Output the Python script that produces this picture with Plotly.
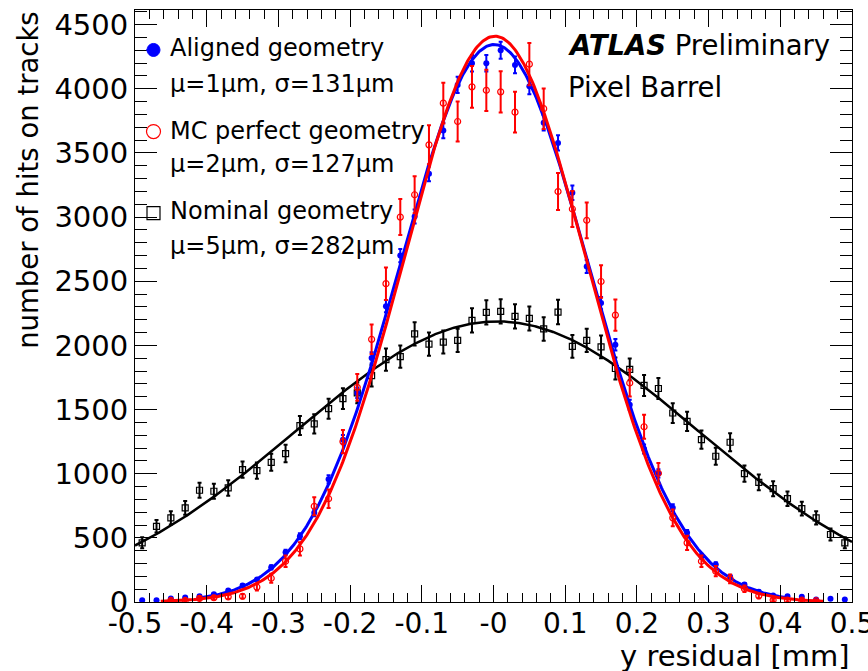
import numpy as np
import plotly.graph_objects as go

# ---------------- data ----------------
bin_centers = [-0.49, -0.47, -0.45, -0.43, -0.41, -0.39, -0.37, -0.35, -0.33, -0.31,
               -0.29, -0.27, -0.25, -0.23, -0.21, -0.19, -0.17, -0.15, -0.13, -0.11,
               -0.09, -0.07, -0.05, -0.03, -0.01, 0.01, 0.03, 0.05, 0.07, 0.09,
               0.11, 0.13, 0.15, 0.17, 0.19, 0.21, 0.23, 0.25, 0.27, 0.29,
               0.31, 0.33, 0.35, 0.37, 0.39, 0.41, 0.43, 0.45, 0.47, 0.49]

aligned_counts = [14, 14, 27, 35, 45, 60, 90, 128, 175, 270,
                  388, 513, 695, 957, 1265, 1629, 1902, 2306, 2700, 3005,
                  3337, 3675, 4030, 4199, 4199, 4300, 4186, 4020, 3735, 3578,
                  3190, 2615, 2330, 2005, 1538, 1193, 1003, 734, 539, 357,
                  292, 196, 136, 80, 50, 45, 40, 19, 25, 19]
aligned_err = [4, 4, 5, 6, 7, 8, 9, 11, 13, 16,
               20, 23, 26, 31, 36, 40, 44, 48, 52, 55,
               58, 61, 63, 65, 65, 66, 65, 63, 61, 60,
               56, 51, 48, 45, 39, 35, 32, 27, 23, 19,
               17, 14, 12, 9, 7, 7, 6, 4, 5, 4]

mc_counts = [None, None, 12, 12, 28, 33, 40, 45, 116, 185,
             318, 414, 746, 805, 1250, 1673, 2047, 2481, 3000, 3174,
             3563, 3888, 3745, 4015, 3988, 3976, 3818, 4192, 3845, 3199,
             3063, 2975, 2498, 2236, 1707, 1366, 1003, 656, 461, 318,
             240, 181, 103, 48, 16, 14, 14, 10, None, None]
mc_err = [None, None, 9, 9, 13, 15, 16, 17, 27, 35,
          45, 52, 70, 72, 90, 104, 115, 127, 140, 144,
          152, 159, 156, 162, 161, 161, 158, 165, 158, 144,
          141, 139, 127, 121, 105, 94, 81, 65, 55, 45,
          40, 34, 26, 18, 10, 10, 10, 8, None, None]

nominal_counts = [461, 590, 656, 734, 871, 863, 889, 1032, 1024, 1089,
                  1157, 1375, 1388, 1507, 1585, 1630, 1764, 1889, 1912, 2090,
                  2010, 2026, 2039, 2195, 2257, 2265, 2226, 2210, 2128, 2260,
                  1992, 2039, 1988, 1820, 1813, 1688, 1664, 1473, 1408, 1266,
                  1136, 1245, 1000, 932, 883, 805, 728, 656, 526, 461]
nominal_err = [43, 49, 51, 54, 59, 59, 60, 64, 64, 66,
               68, 74, 75, 78, 80, 81, 84, 87, 87, 91,
               90, 90, 90, 94, 95, 95, 94, 94, 92, 95,
               89, 90, 89, 85, 85, 82, 82, 77, 75, 71,
               67, 71, 63, 61, 59, 57, 54, 51, 46, 43]

# Gaussian fit parameters (amplitude, mean [mm], sigma [mm], fit range [mm])
fit_names = ["aligned", "mc", "nominal"]
fit_amp = [4345, 4410, 2187]
fit_mu = [0.001, 0.002, 0.005]
fit_sigma = [0.131, 0.127, 0.282]
fit_lo = [-0.41, -0.464, -0.5]
fit_hi = [0.41, 0.46, 0.5]

x_tickvals = [-0.5, -0.4, -0.3, -0.2, -0.1, 0.0, 0.1, 0.2, 0.3, 0.4, 0.5]
x_ticktext = ["-0.5", "-0.4", "-0.3", "-0.2", "-0.1", "-0", "0.1", "0.2", "0.3", "0.4", "0.5"]
y_tickvals = [0, 500, 1000, 1500, 2000, 2500, 3000, 3500, 4000, 4500]

BLUE = "#0000ff"
RED = "#ff0000"
BLACK = "#000000"
FONT = "DejaVu Sans"
TICKFONT = "DejaVu Sans"

fig = go.Figure()


def fit_curve(i):
    xs = np.linspace(fit_lo[i], fit_hi[i], 500)
    ys = fit_amp[i] * np.exp(-0.5 * ((xs - fit_mu[i]) / fit_sigma[i]) ** 2)
    return xs, ys


# Nominal geometry (black)
fig.add_trace(go.Scatter(
    x=bin_centers, y=nominal_counts, mode="markers",
    marker=dict(symbol="square-open", size=6, color=BLACK, line=dict(width=1.2, color=BLACK)),
    error_y=dict(type="data", array=nominal_err, color=BLACK, thickness=2, width=2),
    showlegend=False))
xs, ys = fit_curve(2)
fig.add_trace(go.Scatter(x=xs, y=ys, mode="lines", line=dict(color=BLACK, width=2.5),
                         showlegend=False, hoverinfo="skip"))

# Aligned geometry (blue)
fig.add_trace(go.Scatter(
    x=bin_centers, y=aligned_counts, mode="markers",
    marker=dict(symbol="circle", size=6, color=BLUE),
    error_y=dict(type="data", array=aligned_err, color=BLUE, thickness=2, width=2),
    showlegend=False))
xs, ys = fit_curve(0)
fig.add_trace(go.Scatter(x=xs, y=ys, mode="lines", line=dict(color=BLUE, width=3),
                         showlegend=False, hoverinfo="skip"))

# MC perfect geometry (red)
fig.add_trace(go.Scatter(
    x=bin_centers, y=mc_counts, mode="markers",
    marker=dict(symbol="circle-open", size=6, color=RED, line=dict(width=1.2, color=RED)),
    error_y=dict(type="data", array=mc_err, color=RED, thickness=2, width=2),
    showlegend=False))
xs, ys = fit_curve(1)
fig.add_trace(go.Scatter(x=xs, y=ys, mode="lines", line=dict(color=RED, width=3),
                         showlegend=False, hoverinfo="skip"))

# ---------------- layout ----------------
L, R, T, B = 135, 16, 10, 68.5
W, H = 868, 671
PW, PH = W - L - R, H - T - B


def px(xpix):
    return (xpix - L) / PW


def py(ypix):
    return (H - B - ypix) / PH


fig.update_layout(
    width=W, height=H, autosize=False,
    margin=dict(l=L, r=R, t=T, b=B, pad=0, autoexpand=False),
    paper_bgcolor="white", plot_bgcolor="white",
    font=dict(family=FONT, color="black"),
    showlegend=False,
    xaxis=dict(range=[-0.5, 0.5], tickvals=x_tickvals, ticktext=x_ticktext,
               ticks="inside", ticklen=17, tickwidth=1, tickcolor="black",
               minor=dict(dtick=0.02, ticks="inside", ticklen=9, tickwidth=1, tickcolor="black"),
               showline=True, linecolor="black", linewidth=1, mirror="allticks",
               showgrid=False, zeroline=False, ticklabeloverflow="allow", automargin=False,
               ticklabelstandoff=-4,
               tickfont=dict(family=TICKFONT, size=28, color="black")),
    yaxis=dict(range=[0, 4614], tickvals=y_tickvals,
               ticks="inside", ticklen=22, tickwidth=1, tickcolor="black",
               minor=dict(dtick=100, ticks="inside", ticklen=12, tickwidth=1, tickcolor="black"),
               showline=True, linecolor="black", linewidth=1, mirror="allticks",
               showgrid=False, zeroline=False, ticklabeloverflow="allow", automargin=False,
               tickfont=dict(family=TICKFONT, size=29, color="black")),
)

ann = []
# axis titles
ann.append(dict(text="number of hits on tracks", xref="paper", yref="paper",
                x=px(28), y=py(180), xanchor="center", yanchor="middle",
                textangle=-90, showarrow=False, font=dict(family=FONT, size=27.5)))
ann.append(dict(text="y residual [mm]", xref="paper", yref="paper",
                x=1.0, y=py(657), xanchor="right", yanchor="middle",
                showarrow=False, font=dict(family=FONT, size=29)))
# ATLAS label
ann.append(dict(text="<b><i>ATLAS</i></b> Preliminary", xref="paper", yref="paper",
                x=px(566), y=py(45), xanchor="left", yanchor="middle",
                showarrow=False, font=dict(family=FONT, size=27.5)))
ann.append(dict(text="Pixel Barrel", xref="paper", yref="paper",
                x=px(566), y=py(87), xanchor="left", yanchor="middle",
                showarrow=False, font=dict(family=FONT, size=27.5)))
# legend texts
legend_lines = [("Aligned geometry", 48), ("\u03bc=1\u03bcm, \u03c3=131\u03bcm", 84),
                ("MC perfect geometry", 131.5), ("\u03bc=2\u03bcm, \u03c3=127\u03bcm", 164),
                ("Nominal geometry", 211), ("\u03bc=5\u03bcm, \u03c3=282\u03bcm", 246.5)]
for txt, yy in legend_lines:
    ann.append(dict(text=txt, xref="paper", yref="paper", x=px(168), y=py(yy),
                    xanchor="left", yanchor="middle", showarrow=False,
                    font=dict(family=FONT, size=24)))
fig.update_layout(annotations=ann)

# legend markers
shapes = []
mx = px(153.5)
shapes.append(dict(type="circle", xref="paper", yref="paper", xsizemode="pixel", ysizemode="pixel",
                   xanchor=mx, yanchor=py(50), x0=-6.5, x1=6.5, y0=-6.5, y1=6.5,
                   fillcolor=BLUE, line=dict(color=BLUE, width=1)))
shapes.append(dict(type="line", xref="paper", yref="paper", x0=px(146), x1=px(153), y0=py(50), y1=py(50),
                   line=dict(color=BLUE, width=1)))
shapes.append(dict(type="circle", xref="paper", yref="paper", xsizemode="pixel", ysizemode="pixel",
                   xanchor=mx, yanchor=py(131.7), x0=-7, x1=7, y0=-7, y1=7,
                   fillcolor="rgba(0,0,0,0)", line=dict(color=RED, width=1.2)))
shapes.append(dict(type="rect", xref="paper", yref="paper", xsizemode="pixel", ysizemode="pixel",
                   xanchor=mx, yanchor=py(213.3), x0=-6.5, x1=6.5, y0=-6.5, y1=6.5,
                   fillcolor="rgba(0,0,0,0)", line=dict(color=BLACK, width=1.2)))
fig.update_layout(shapes=shapes)

fig.write_html("out.html",
               config={"displayModeBar": False, "responsive": False},
               post_script="document.body.style.margin='0px';document.body.style.padding='0px';"
                           "document.body.style.overflow='hidden';")
